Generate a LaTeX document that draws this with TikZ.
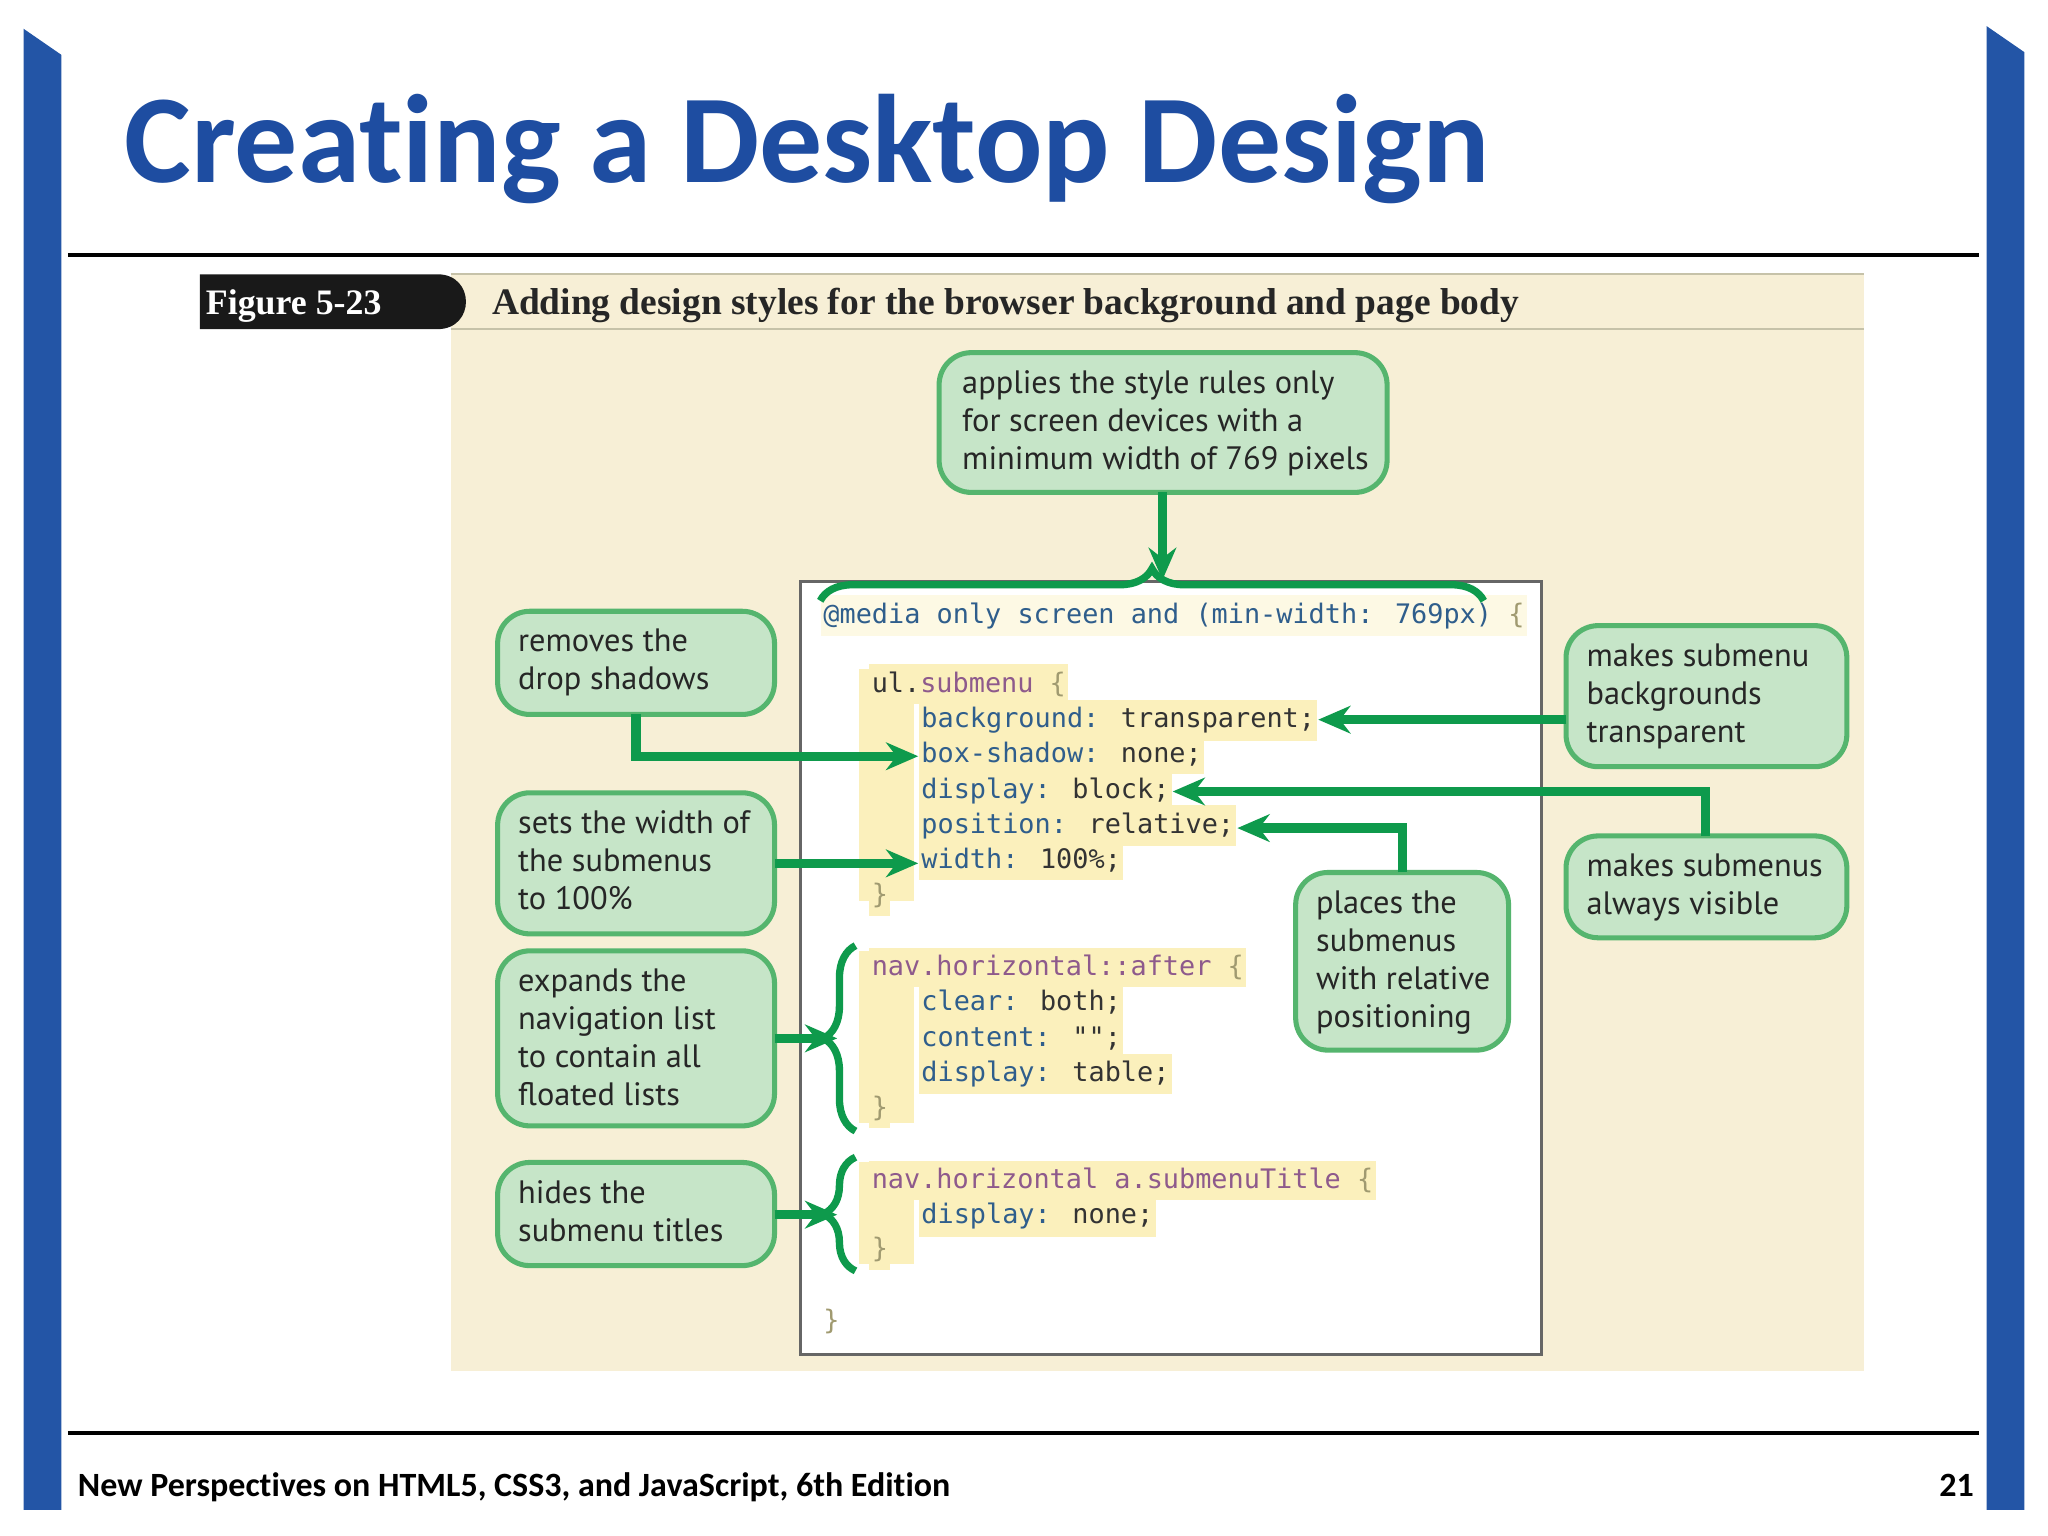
\documentclass[tikz,border=0pt]{standalone}
\usepackage{fontspec}
\setmainfont{Carlito}[Ligatures=NoCommon]
\newfontfamily\callfont{PT Sans}
\newfontfamily\codefont{DejaVu Sans Mono}
\newfontfamily\serfont{Liberation Serif}
\usetikzlibrary{arrows.meta,decorations.pathreplacing}
\definecolor{titleblue}{HTML}{1E4DA1}
\definecolor{barblue}{HTML}{2355A6}
\definecolor{tan}{HTML}{F7EFD6}
\definecolor{boxfill}{HTML}{C6E5C8}
\definecolor{boxline}{HTML}{55B56E}
\definecolor{arr}{HTML}{0E9A4C}
\definecolor{hl}{HTML}{FBF0BC}
\definecolor{prop}{HTML}{2F5E8C}
\definecolor{val}{HTML}{333333}
\definecolor{sel}{HTML}{8E5A8C}
\definecolor{brc}{HTML}{A09A70}
\tikzset{
 callout/.style={draw=boxline,fill=boxfill,line width=1.1pt,rounded corners=7pt,inner sep=0pt},
 calltext/.style={font=\callfont\fontsize{7.05}{8.3}\selectfont,align=left,anchor=north west,inner sep=0pt,text=black!85},
 codeline/.style={font=\codefont\fontsize{5.85}{7}\selectfont,anchor=base west,inner xsep=0.5pt,inner ysep=1.6pt,fill=hl},
 garrow/.style={draw=arr,line width=2pt,-{Stealth[length=7pt,width=6pt]}},
 gbrace/.style={draw=arr,line width=1.6pt,decorate,decoration={brace,amplitude=7pt}}
}
\newcommand{\CPr}[1]{\textcolor{prop}{#1}}
\newcommand{\CVl}[1]{\textcolor{val}{#1}}
\newcommand{\CSl}[1]{\textcolor{sel}{#1}}
\newcommand{\CBc}[1]{\textcolor{brc}{#1}}
\begin{document}
\begin{tikzpicture}[x=0.01cm,y=-0.01cm]
\useasboundingbox (0,0) rectangle (1568,1176);
\fill[white] (0,0) rectangle (1568,1176);
% side bars
\fill[barblue] (18,22) -- (47,42) -- (47,1156) -- (18,1156) -- cycle;
\fill[barblue] (1521,20) -- (1550,40) -- (1550,1156) -- (1521,1156) -- cycle;
% title
\node[anchor=base west,inner sep=0pt,font=\bfseries\fontsize{27.4}{31}\selectfont,text=titleblue] (title) at (95,140) {Creating a Desktop Design};
\draw[black,line width=0.8pt] (52,195) -- (1515,195);
% figure panel
\fill[tan] (345,210) rectangle (1427,1050);
\draw[brc!60,line width=0.5pt] (345,210) -- (1427,210) (345,252) -- (1427,252);
\fill[black!90] (153,210) -- (335,210) .. controls (364,210) and (364,252) .. (335,252) -- (153,252) -- cycle;
\node[anchor=base west,inner sep=0pt,text=white,font=\serfont\bfseries\fontsize{7.8}{9}\selectfont] (fig) at (157,241) {Figure 5-23};
\node[anchor=base west,inner sep=0pt,text=black!85,font=\serfont\bfseries\fontsize{8.15}{9}\selectfont] (cap) at (376,241) {Adding design styles for the browser background and page body};
% code box
\draw[black!60,fill=white,line width=0.6pt] (613,445) rectangle (1180,1037);
\node[codeline,fill=hl!40] (c0) at (628,477) {\CPr{@media only screen and (min-width: 769px)} \CBc{\{}};
\fill[hl] (658,512) rectangle (700,690);
\node[codeline] (c1) at (665,530) {\CVl{ul.}\CSl{submenu} \CBc{\{}};
\node[codeline] (c2) at (703,557) {\CPr{background:} \CVl{transparent;}};
\node[codeline] (c3) at (703,584) {\CPr{box-shadow:} \CVl{none;}};
\node[codeline] (c4) at (703,611) {\CPr{display:} \CVl{block;}};
\node[codeline] (c5) at (703,638) {\CPr{position:} \CVl{relative;}};
\node[codeline] (c6) at (703,665) {\CPr{width:} \CVl{100\%;}};
\node[codeline] (c7) at (665,692) {\CBc{\}}};
\fill[hl] (658,728) rectangle (700,860);
\node[codeline] (d1) at (665,747) {\CSl{nav.horizontal::after} \CBc{\{}};
\node[codeline] (d2) at (703,774) {\CPr{clear:} \CVl{both;}};
\node[codeline] (d3) at (703,801) {\CPr{content:} \CVl{"";}};
\node[codeline] (d4) at (703,828) {\CPr{display:} \CVl{table;}};
\node[codeline] (d5) at (665,855) {\CBc{\}}};
\fill[hl] (658,890) rectangle (700,968);
\node[codeline] (e1) at (665,910) {\CSl{nav.horizontal a.submenuTitle} \CBc{\{}};
\node[codeline] (e2) at (703,937) {\CPr{display:} \CVl{none;}};
\node[codeline] (e3) at (665,963) {\CBc{\}}};
\node[codeline,fill=none] (f1) at (628,1018) {\CBc{\}}};
% callouts
\draw[callout] (719,270) rectangle (1062,377);
\node[calltext] (t1) at (736,283) {applies the style rules only\\for screen devices with a\\minimum width of 769 pixels};
\draw[callout] (381,468) rectangle (593,547);
\node[calltext] (t2) at (396,481) {removes the\\drop shadows};
\draw[callout] (381,607) rectangle (593,715);
\node[calltext] (t3) at (396,620) {sets the width of\\the submenus\\to 100\%};
\draw[callout] (381,728) rectangle (593,862);
\node[calltext] (t4) at (396,741) {expands the\\navigation list\\to contain all\\floated lists};
\draw[callout] (381,890) rectangle (593,969);
\node[calltext] (t5) at (396,903) {hides the\\submenu titles};
\draw[callout] (1199,479) rectangle (1414,587);
\node[calltext] (t6) at (1214,492) {makes submenu\\backgrounds\\transparent};
\draw[callout] (1199,640) rectangle (1414,718);
\node[calltext] (t7) at (1214,653) {makes submenus\\always visible};
\draw[callout] (992,668) rectangle (1155,804);
\node[calltext] (t8) at (1007,681) {places the\\submenus\\with relative\\positioning};
% coordinates
\coordinate (b1t) at (890,377); \coordinate (b1e) at (890,444);
\coordinate (rmA) at (487,547); \coordinate (rmB) at (487,579);
\coordinate (swA) at (593,661);
\coordinate (exA) at (593,795); \coordinate (exB) at (641,795);
\coordinate (hiA) at (593,930); \coordinate (hiB) at (641,930);
\coordinate (mtA) at (1199,551);
\coordinate (avA) at (1306,640); \coordinate (avB) at (1306,606);
\coordinate (plA) at (1074,668); \coordinate (plB) at (1074,634);
% braces
\draw[gbrace] (628,460) -- (1136,460);
\draw[gbrace] (655,866) -- (655,724);
\draw[gbrace] (655,973) -- (655,886);
% arrows
\draw[garrow] (b1t) -- (b1e);
\draw[garrow] (rmA) -- (rmB) -- (c3.west |- rmB);
\draw[garrow] (swA) -- (c6.west |- swA);
\draw[garrow] (exA) -- (exB);
\draw[garrow] (hiA) -- (hiB);
\draw[garrow] (mtA) -- (c2.east |- mtA);
\draw[garrow] (avA) -- (avB) -- (c4.east |- avB);
\draw[garrow] (plA) -- (plB) -- (c5.east |- plB);
% footer
\draw[black,line width=0.8pt] (52,1097) -- (1515,1097);
\node[anchor=base west,inner sep=0pt,font=\bfseries\fontsize{7.4}{9}\selectfont] (foot) at (59,1146) {New Perspectives on HTML5, CSS3, and JavaScript, 6th Edition};
\node[anchor=base east,inner sep=0pt,font=\bfseries\fontsize{7.4}{9}\selectfont] (pg) at (1512,1146) {21};
\end{tikzpicture}
\end{document}
